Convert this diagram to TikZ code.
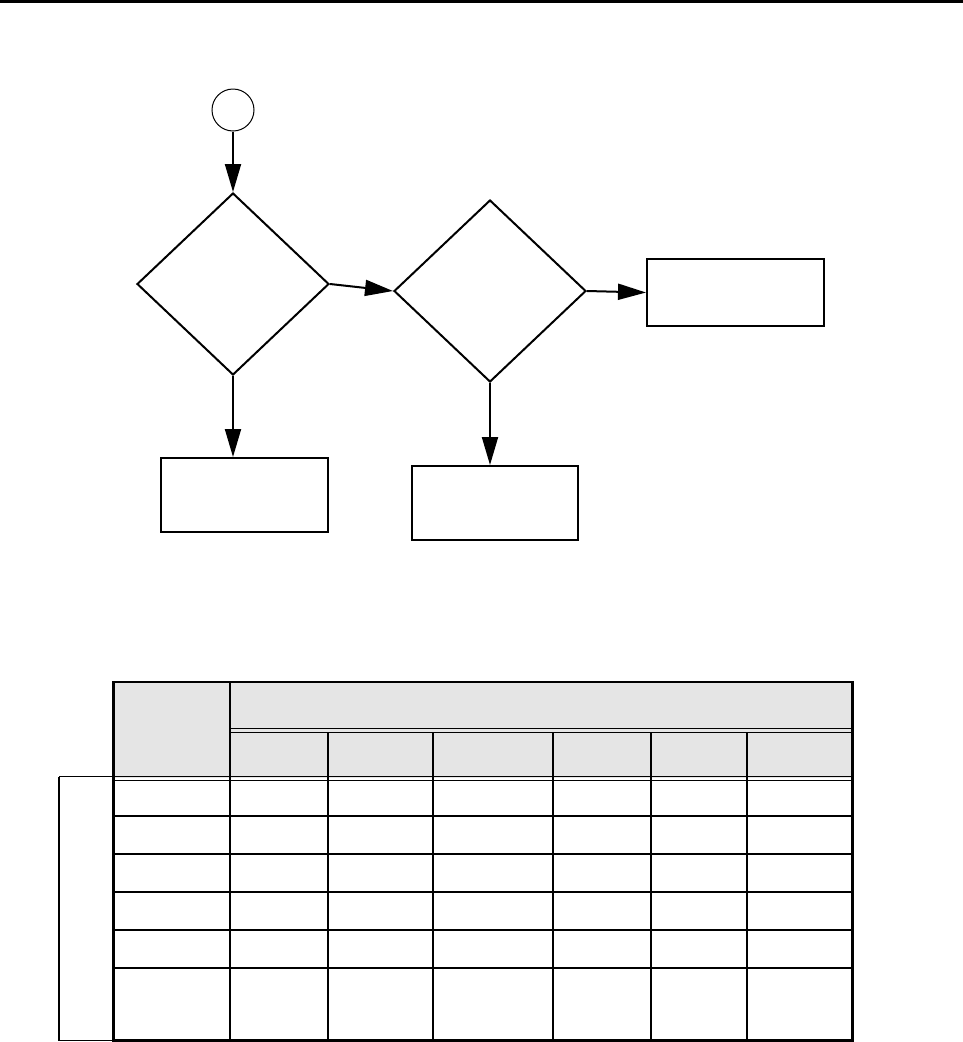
\documentclass[tikz,border=0pt]{standalone}
\usetikzlibrary{shapes.geometric,arrows.meta}
\definecolor{hdr}{HTML}{E5E5E5}
\tikzset{
  every picture/.style={x=1pt,y=-1pt},
  arr/.style={line width=2pt,-{Triangle[length=28pt,width=16pt]},shorten >=0pt},
  decision/.style={diamond,draw,line width=2pt,inner sep=0pt,minimum width=192pt,minimum height=182pt},
  actbox/.style={rectangle,draw,line width=2pt,inner sep=0pt},
  startc/.style={circle,draw,line width=1pt,minimum size=42pt,inner sep=0pt},
  tline/.style={line width=1.8pt},
  frame/.style={line width=3pt}
}
\begin{document}
\begin{tikzpicture}
\useasboundingbox (0,0) rectangle (963,1042);
% top rule
\draw[line width=3pt] (0,1.5) -- (963,1.5);
% flowchart
\node[startc] (s) at (233,110) {};
\node[decision] (d1) at (233,284) {};
\node[decision] (d2) at (490,291) {};
\node[actbox,minimum width=177pt,minimum height=67pt] (r3) at (735.5,292.5) {};
\node[actbox,minimum width=167pt,minimum height=74pt] (r1) at (244.5,495) {};
\node[actbox,minimum width=166pt,minimum height=74pt] (r2) at (495,503) {};
\draw[arr] (s.south) -- (d1.north);
\draw[arr] (d1.east) -- (d2.west);
\draw[arr] (d2.east) -- (r3.west);
\draw[arr] (d1.south) -- (d1.south |- r1.north);
\draw[arr] (d2.south) -- (d2.south |- r2.north);
% table header fill
\fill[hdr] (113,682) rectangle (852,778);
% header lines
\draw[tline] (113,682) -- (852,682);
\draw[tline] (230,682) -- (230,1040);
\draw[tline] (230,728.5) -- (852,728.5);
\draw[tline] (230,732.5) -- (852,732.5);
\foreach \xx in {328,433,553,651,747}
  \draw[tline] (\xx,732.5) -- (\xx,1040);
\draw[tline] (59,776.5) -- (852,776.5);
\draw[tline] (113,780.5) -- (852,780.5);
\foreach \yy in {816,854,892,930,968}
  \draw[tline] (113,\yy) -- (852,\yy);
% left bracket
\draw[tline] (59,776.5) -- (59,1040.5) -- (113,1040.5);
% outer frame
\draw[frame] (113,681) -- (113,1040) -- (852,1040) -- (852,681);
\end{tikzpicture}
\end{document}
